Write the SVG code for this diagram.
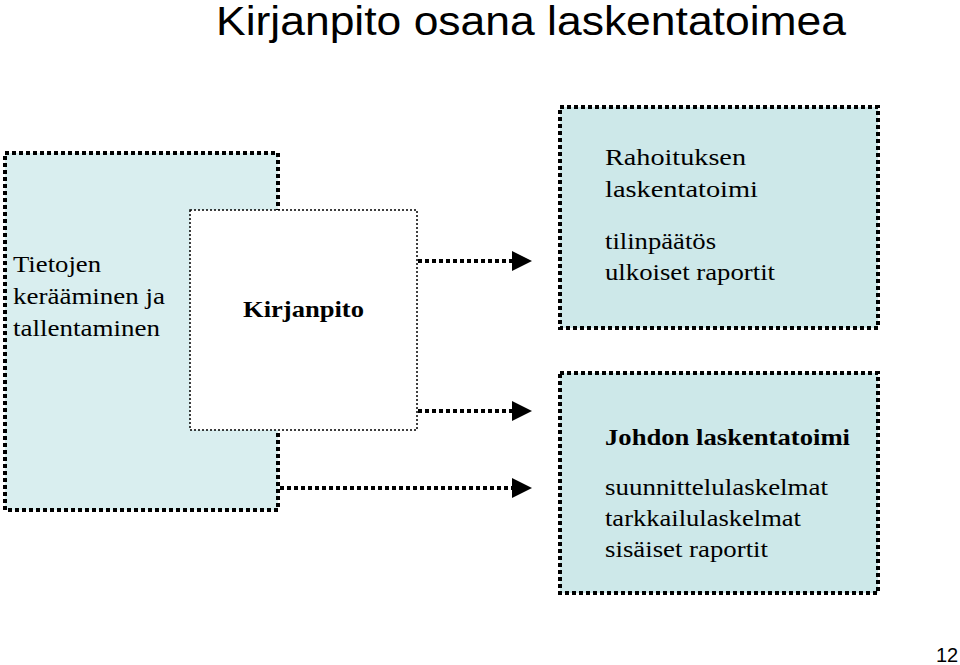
<svg xmlns="http://www.w3.org/2000/svg" width="960" height="665" viewBox="0 0 960 665">
<style>
.thick{stroke:#000;stroke-width:4;stroke-dasharray:4 3;}
.t{font-family:"Liberation Serif",serif;font-size:24px;fill:#000}
</style>
<defs><marker id="a" markerWidth="5" markerHeight="5" refX="1" refY="2.5" orient="auto" markerUnits="strokeWidth"><path d="M0,0L5,2.5L0,5z"/></marker></defs>
<rect width="960" height="665" fill="#fff"/>
<text x="216" y="35" font-family="Liberation Sans,sans-serif" font-size="40" textLength="630" lengthAdjust="spacingAndGlyphs">Kirjanpito osana laskentatoimea</text>
<g id="tietojen">
<rect x="5" y="153" width="273" height="357" fill="#d9eeef" class="thick"/>
<text class="t" x="13" y="272" textLength="88" lengthAdjust="spacingAndGlyphs">Tietojen</text>
<text class="t" x="13" y="304" textLength="152" lengthAdjust="spacingAndGlyphs">kerääminen ja</text>
<text class="t" x="13" y="336" textLength="147" lengthAdjust="spacingAndGlyphs">tallentaminen</text>
</g>
<g id="kirjanpito">
<rect x="190" y="210" width="227" height="220" fill="#fff" stroke="#000" stroke-width="1.5" stroke-dasharray="2 2"/>
<text class="t" x="243" y="317" font-weight="bold" textLength="121" lengthAdjust="spacingAndGlyphs">Kirjanpito</text>
</g>
<g id="rahoitus">
<rect x="560" y="107" width="318" height="221" fill="#cde8e9" class="thick"/>
<text class="t" x="605" y="165" textLength="141" lengthAdjust="spacingAndGlyphs">Rahoituksen</text>
<text class="t" x="605" y="197" textLength="153" lengthAdjust="spacingAndGlyphs">laskentatoimi</text>
<text class="t" x="605" y="249" textLength="111" lengthAdjust="spacingAndGlyphs">tilinpäätös</text>
<text class="t" x="605" y="280" textLength="170" lengthAdjust="spacingAndGlyphs">ulkoiset raportit</text>
</g>
<g id="johto">
<rect x="560" y="373" width="318" height="220" fill="#cde8e9" class="thick"/>
<text class="t" x="605" y="445" font-weight="bold" textLength="245" lengthAdjust="spacingAndGlyphs">Johdon laskentatoimi</text>
<text class="t" x="605" y="495" textLength="223" lengthAdjust="spacingAndGlyphs">suunnittelulaskelmat</text>
<text class="t" x="605" y="526" textLength="196" lengthAdjust="spacingAndGlyphs">tarkkailulaskelmat</text>
<text class="t" x="605" y="557" textLength="163" lengthAdjust="spacingAndGlyphs">sisäiset raportit</text>
</g>
<g id="connectors" class="thick" fill="none">
<line x1="418" y1="261" x2="516" y2="261" marker-end="url(#a)"/>
<line x1="418" y1="411" x2="516" y2="411" marker-end="url(#a)"/>
<line x1="280" y1="488" x2="516" y2="488" marker-end="url(#a)"/>
</g>
<text x="936" y="662" font-family="Liberation Sans,sans-serif" font-size="20">12</text>
</svg>
